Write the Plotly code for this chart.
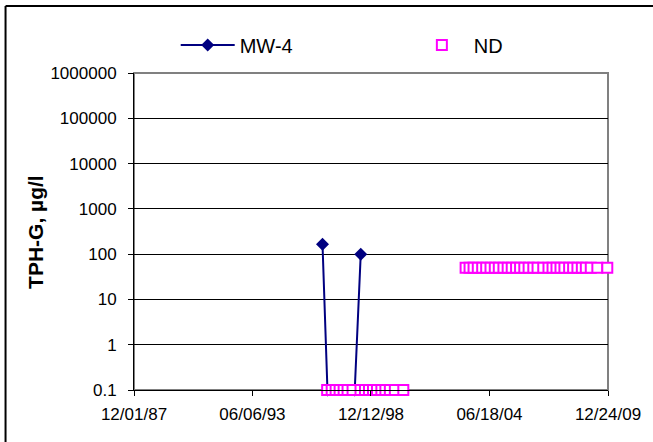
import plotly.graph_objects as go

# ---- data ----
x_tick_vals = ["1987-12-01", "1993-06-06", "1998-12-12", "2004-06-18", "2009-12-24"]
x_tick_text = ["12/01/87", "06/06/93", "12/12/98", "06/18/04", "12/24/09"]
y_tick_vals = [0.1, 1, 10, 100, 1000, 10000, 100000, 1000000]
y_tick_text = ["0.1", "1", "10", "100", "1000", "10000", "100000", "1000000"]

mw4_dates = ["1996-09-09", "1996-12-02", "1998-03-11", "1998-06-21"]
mw4_values = [165, 0.1, 0.1, 100]

nd_dates = [
    "1996-11-27", "1997-02-12", "1997-04-20", "1997-06-27", "1997-09-03", "1997-11-09",
    "1998-02-02", "1998-06-17", "1998-09-01", "1998-11-08", "1999-01-15", "1999-03-24",
    "1999-06-07", "1999-08-14", "1999-10-29", "2000-01-22", "2000-06-14",
    "2003-05-09", "2003-07-15", "2003-09-21", "2003-12-02", "2004-02-15", "2004-04-23",
    "2004-07-05", "2004-09-16", "2004-11-23", "2005-02-10", "2005-04-23", "2005-07-01",
    "2005-09-13", "2005-11-20", "2006-01-31", "2006-04-14", "2006-07-03", "2006-09-13",
    "2006-12-19", "2007-03-18", "2007-05-26", "2007-08-01", "2007-10-08", "2007-12-14",
    "2008-03-03", "2008-05-10", "2008-07-22", "2008-10-05", "2008-12-12", "2009-03-06",
    "2009-06-26", "2009-12-12",
]
nd_values = [
    0.1, 0.1, 0.1, 0.1, 0.1, 0.1,
    0.1, 0.1, 0.1, 0.1, 0.1, 0.1,
    0.1, 0.1, 0.1, 0.1, 0.1,
    50, 50, 50, 50, 50, 50,
    50, 50, 50, 50, 50, 50,
    50, 50, 50, 50, 50, 50,
    50, 50, 50, 50, 50, 50,
    50, 50, 50, 50, 50, 50,
    50, 50,
]

FONT = "Liberation Sans, Arial, sans-serif"

fig = go.Figure()
fig.add_trace(go.Scatter(
    x=mw4_dates, y=mw4_values, name="MW-4", mode="lines+markers",
    line=dict(color="#000080", width=2),
    marker=dict(symbol="diamond", size=10, color="#000080"),
    cliponaxis=False, legend="legend",
))
fig.add_trace(go.Scatter(
    x=nd_dates, y=nd_values, name="ND", mode="markers",
    marker=dict(symbol="square", size=10, color="white",
                line=dict(color="#FF00FF", width=2)),
    cliponaxis=False, legend="legend2",
))

legend_common = dict(orientation="h", y=1.088, xanchor="left", yanchor="middle",
                     font=dict(size=20), itemwidth=54, bgcolor="rgba(0,0,0,0)",
                     borderwidth=0)

fig.update_layout(
    width=653, height=442,
    margin=dict(l=134, r=43, t=73, b=52),
    paper_bgcolor="white", plot_bgcolor="white",
    font=dict(family=FONT, color="black", size=17),
    showlegend=True,
    legend=dict(x=0.088, **legend_common),
    legend2=dict(x=0.582, **legend_common),
    xaxis=dict(type="date", range=["1987-12-01", "2009-12-24"],
               tickvals=x_tick_vals, ticktext=x_tick_text,
               ticks="outside", ticklen=5, tickcolor="black",
               showline=True, linecolor="black", linewidth=1,
               showgrid=False, zeroline=False, ticklabelstandoff=4,
               tickfont=dict(size=17)),
    yaxis=dict(type="log", range=[-1, 6],
               tickvals=y_tick_vals, ticktext=y_tick_text,
               ticks="outside", ticklen=5, tickcolor="black",
               showline=True, linecolor="black", linewidth=1,
               showgrid=True, gridcolor="black", gridwidth=1,
               zeroline=False, ticklabelstandoff=8,
               tickfont=dict(size=17)),
    shapes=[
        dict(type="rect", xref="paper", yref="paper", x0=0, x1=1, y0=0, y1=1,
             line=dict(color="#808080", width=2), layer="below"),
        # chart frame: only the left and top edges are inside the picture
        dict(type="line", xref="paper", yref="paper", x0=-0.271, x1=-0.271,
             y0=-0.5, y1=1.211, line=dict(color="black", width=2), layer="below"),
        dict(type="line", xref="paper", yref="paper", x0=-0.271, x1=1.4,
             y0=1.211, y1=1.211, line=dict(color="black", width=2), layer="below"),
    ],
    annotations=[
        dict(text="<b>TPH-G, µg/l</b>", textangle=-90, xref="paper", yref="paper",
             x=-0.208, y=0.5, xanchor="center", yanchor="middle", showarrow=False,
             font=dict(size=21)),
    ],
)

fig.write_html("out.html", config={"displayModeBar": False},
               post_script="document.body.style.margin='0';document.body.style.padding='0';")
